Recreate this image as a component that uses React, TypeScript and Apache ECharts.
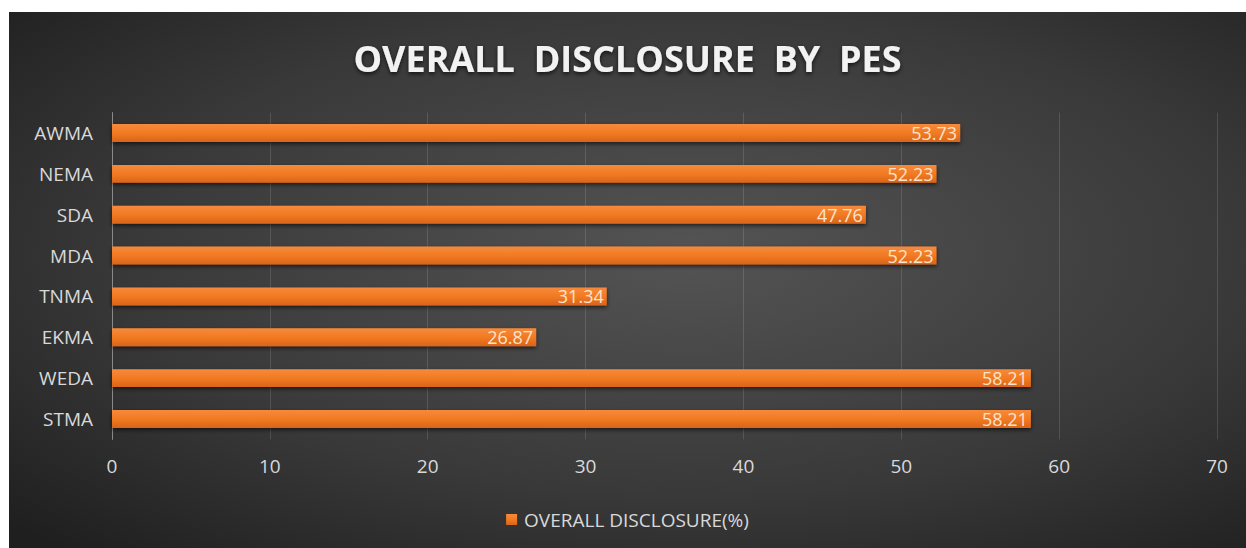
import React, { useEffect, useRef } from "react";
import * as echarts from "echarts";

const categories = ["AWMA", "NEMA", "SDA", "MDA", "TNMA", "EKMA", "WEDA", "STMA"];
const disclosure = [53.73, 52.23, 47.76, 52.23, 31.34, 26.87, 58.21, 58.21];
const seriesName = "OVERALL DISCLOSURE(%)";
const titleText = "OVERALL  DISCLOSURE  BY  PES";

export default function App() {
  const ref = useRef<HTMLDivElement>(null);
  useEffect(() => {
    const chart = echarts.init(ref.current!, null, { renderer: "svg" });
    chart.setOption({
      animation: false,
      backgroundColor: {
        type: "radial",
        x: 0.55,
        y: 0.45,
        r: 0.75,
        colorStops: [
          { offset: 0, color: "#545454" },
          { offset: 0.6, color: "#393939" },
          { offset: 1, color: "#1f1f1f" },
        ],
      },
      title: {
        text: titleText,
        left: "center",
        top: 23,
        textStyle: {
          color: "#f2f2f2",
          fontSize: 36,
          fontWeight: "bold",
          fontFamily: "Open Sans",
          textShadowColor: "rgba(0,0,0,0.7)",
          textShadowBlur: 4,
          textShadowOffsetY: 2,
        },
      },
      legend: {
        top: 493,
        left: "center",
        itemWidth: 11,
        itemHeight: 11,
        itemGap: 5,
        icon: "rect",
        textStyle: { color: "#d9d9d9", fontSize: 19, fontFamily: "Open Sans", padding: [0, 0, 0, 2] },
        data: [seriesName],
      },
      grid: { left: 103, right: 29, top: 100.6, bottom: 108.6, containLabel: false },
      xAxis: {
        type: "value",
        min: 0,
        max: 70,
        interval: 10,
        axisLine: { show: false },
        axisTick: { show: false },
        axisLabel: { color: "#d9d9d9", fontSize: 19, fontFamily: "Open Sans", margin: 17 },
        splitLine: { show: true, lineStyle: { color: "rgba(255,255,255,0.13)", width: 1 } },
      },
      yAxis: {
        type: "category",
        inverse: true,
        data: categories,
        axisLine: { show: true, lineStyle: { color: "#8a8a8a", width: 1 } },
        axisTick: { show: false },
        axisLabel: { color: "#d9d9d9", fontSize: 19, fontFamily: "Open Sans", margin: 19 },
      },
      series: [
        {
          name: seriesName,
          type: "bar",
          data: disclosure,
          barWidth: "44%",
          itemStyle: {
            color: {
              type: "linear",
              x: 0,
              y: 0,
              x2: 0,
              y2: 1,
              colorStops: [
                { offset: 0, color: "#f68a3c" },
                { offset: 0.5, color: "#f27a22" },
                { offset: 1, color: "#d9641a" },
              ],
            },
            shadowColor: "rgba(0,0,0,0.6)",
            shadowBlur: 4,
            shadowOffsetY: 2,
          },
          label: {
            show: true,
            position: "insideRight",
            distance: 3,
            color: "#fde3cc",
            fontSize: 18,
            fontFamily: "Open Sans",
            formatter: (p: any) => p.value.toFixed(2),
          },
        },
      ],
    });
    return () => chart.dispose();
  }, []);
  return (
    <div
      ref={ref}
      style={{ position: "absolute", left: 9, top: 12, width: 1237, height: 536 }}
    />
  );
}
